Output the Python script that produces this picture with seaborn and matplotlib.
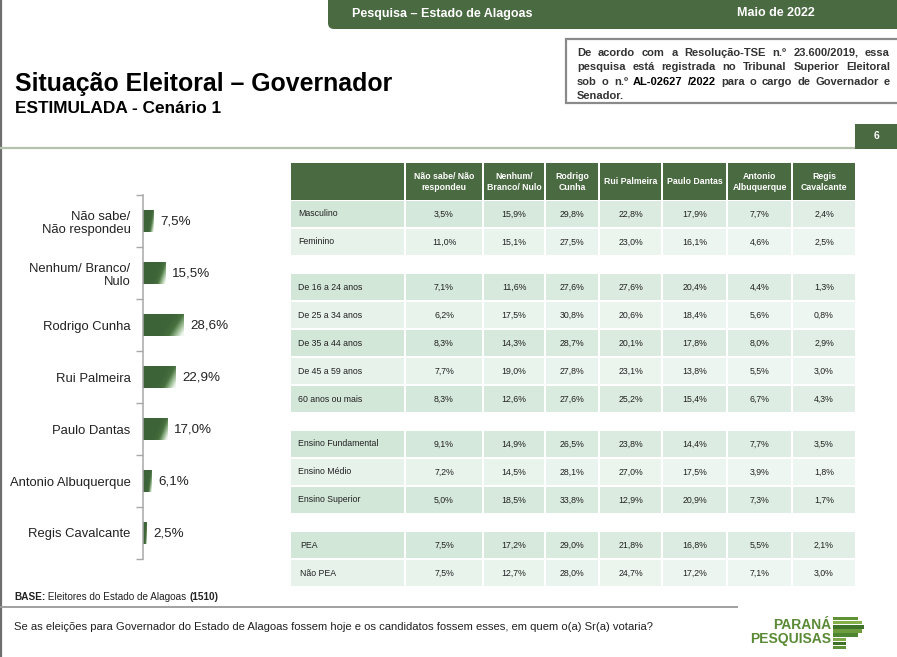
import numpy as np
import pandas as pd
import matplotlib
matplotlib.use("Agg")
import matplotlib.pyplot as plt
import seaborn as sns
from matplotlib.patches import Rectangle, FancyBboxPatch
from matplotlib.colors import LinearSegmentedColormap, to_rgb

# ---------------- DATA ----------------
bar_labels = ["Não sabe/\nNão respondeu", "Nenhum/ Branco/\nNulo", "Rodrigo Cunha",
              "Rui Palmeira", "Paulo Dantas", "Antonio Albuquerque", "Regis Cavalcante"]
bar_values = [7.5, 15.5, 28.6, 22.9, 17.0, 6.1, 2.5]

table_columns = ["Não sabe/ Não\nrespondeu", "Nenhum/\nBranco/ Nulo", "Rodrigo\nCunha",
                 "Rui Palmeira", "Paulo Dantas", "Antonio\nAlbuquerque", "Regis\nCavalcante"]

grp_sexo = ["Masculino", "Feminino"]
grp_idade = ["De 16 a 24 anos", "De 25 a 34 anos", "De 35 a 44 anos",
             "De 45 a 59 anos", "60 anos ou mais"]
grp_escolaridade = ["Ensino Fundamental", "Ensino Médio", "Ensino Superior"]
grp_pea = ["PEA", "Não PEA"]

masculino = [3.5, 15.9, 29.8, 22.8, 17.9, 7.7, 2.4]
feminino = [11.0, 15.1, 27.5, 23.0, 16.1, 4.6, 2.5]
idade_16_24 = [7.1, 11.6, 27.6, 27.6, 20.4, 4.4, 1.3]
idade_25_34 = [6.2, 17.5, 30.8, 20.6, 18.4, 5.6, 0.8]
idade_35_44 = [8.3, 14.3, 28.7, 20.1, 17.8, 8.0, 2.9]
idade_45_59 = [7.7, 19.0, 27.8, 23.1, 13.8, 5.5, 3.0]
idade_60_mais = [8.3, 12.6, 27.6, 25.2, 15.4, 6.7, 4.3]
ensino_fundamental = [9.1, 14.9, 26.5, 23.8, 14.4, 7.7, 3.5]
ensino_medio = [7.2, 14.5, 28.1, 27.0, 17.5, 3.9, 1.8]
ensino_superior = [5.0, 18.5, 33.8, 12.9, 20.9, 7.3, 1.7]
pea = [7.5, 17.2, 29.0, 21.8, 16.8, 5.5, 2.1]
nao_pea = [7.5, 12.7, 28.0, 24.7, 17.2, 7.1, 3.0]

table_groups = [
    (grp_sexo, [masculino, feminino]),
    (grp_idade, [idade_16_24, idade_25_34, idade_35_44, idade_45_59, idade_60_mais]),
    (grp_escolaridade, [ensino_fundamental, ensino_medio, ensino_superior]),
    (grp_pea, [pea, nao_pea]),
]

# ---------------- STYLE ----------------
sns.set_theme(style="white")
plt.rcParams['font.family'] = ['Liberation Sans', 'DejaVu Sans']

GREEN = "#4a6a41"
W, H = 897, 657
fig = plt.figure(figsize=(W / 100, H / 100), dpi=100)
fig.patch.set_facecolor("white")

bg = fig.add_axes([0, 0, 1, 1], zorder=0)
bg.set_xlim(0, W)
bg.set_ylim(H, 0)
bg.axis("off")
renderer = fig.canvas.get_renderer()


def text_width(s, **kw):
    t = bg.text(0, 0, s, **kw)
    w = t.get_window_extent(renderer).width
    t.remove()
    return w


def pct(v):
    return f"{v:.1f}%".replace(".", ",")


def mix(c, t):
    r, g, b = to_rgb(c)
    return (r + (1 - r) * t, g + (1 - g) * t, b + (1 - b) * t)


# left border
bg.plot([1, 1], [0, H], color="#6e6e6e", lw=1.6, solid_capstyle="butt")

# header bar
bg.add_patch(FancyBboxPatch((328, -20), 600, 49, boxstyle="round,pad=0,rounding_size=6",
                            fc=GREEN, ec="none"))
bg.text(352, 13.5, "Pesquisa – Estado de Alagoas", color="white", fontsize=9,
        fontweight="bold", va="center", ha="left")
bg.text(737, 13.5, "Maio de 2022", color="white", fontsize=9,
        fontweight="bold", va="center", ha="left")

# info box
bg.add_patch(Rectangle((566, 38.5), 340, 64.5, fc="white", ec="#8a8a8a", lw=1.6))
box_lines = [
    [("De", "#333"), ("acordo", "#333"), ("com", "#333"), ("a", "#333"),
     ("Resolução-TSE", "#333"), ("n.º", "#333"), ("23.600/2019,", "#333"), ("essa", "#333")],
    [("pesquisa", "#333"), ("está", "#333"), ("registrada", "#333"), ("no", "#333"),
     ("Tribunal", "#333"), ("Superior", "#333"), ("Eleitoral", "#333")],
    [("sob", "#333"), ("o", "#333"), ("n.º", "#333"), ("AL-02627", "#000"), ("/2022", "#000"),
     ("para", "#333"), ("o", "#333"), ("cargo", "#333"), ("de", "#333"),
     ("Governador", "#333"), ("e", "#333")],
    [("Senador.", "#333")],
]
box_fs = 8.0
bx0, bx1 = 577, 890
for i, words in enumerate(box_lines):
    yb = 55.5 + i * 14.6
    widths = [text_width(w, fontsize=box_fs, fontweight="bold") for w, _ in words]
    if len(words) > 1 and i < len(box_lines) - 1:
        gap = (bx1 - bx0 - sum(widths)) / (len(words) - 1)
    else:
        gap = text_width(" ", fontsize=box_fs, fontweight="bold")
    x = bx0
    for (w, c), ww in zip(words, widths):
        bg.text(x, yb, w, fontsize=box_fs, fontweight="bold", color=c, ha="left", va="baseline")
        x += ww + gap

# title
bg.text(15, 91.5, "Situação Eleitoral – Governador", fontsize=17.9, fontweight="bold",
        color="black", ha="left", va="baseline")
bg.text(15, 113, "ESTIMULADA - Cenário 1", fontsize=12.4, fontweight="bold",
        color="black", ha="left", va="baseline")

# separator line + page number
bg.plot([0, 855], [147.5, 147.5], color="#b7c2ae", lw=1.6, solid_capstyle="butt")
bg.add_patch(Rectangle((855, 123.5), 45, 25, fc=GREEN, ec="none"))
bg.text(877, 136, "6", color="white", fontsize=7.5, fontweight="bold", ha="center", va="center")

# ---------------- TABLE ----------------
col_edges = [290, 405, 483, 545, 599, 662, 727, 792, 856]
hdr_top, hdr_bot = 163, 200
for c in range(len(col_edges) - 1):
    x0, x1 = col_edges[c], col_edges[c + 1]
    bg.add_patch(Rectangle((x0 + 0.8, hdr_top), x1 - x0 - 1.6, hdr_bot - hdr_top,
                           fc=GREEN, ec="none"))
    if c > 0:
        bg.text((x0 + x1) / 2, (hdr_top + hdr_bot) / 2 + 0.5, table_columns[c - 1],
                color="white", fontsize=6.3, fontweight="bold", ha="center", va="center",
                linespacing=1.35)

pitch, group_extra = 28, 17
yc = 214
for gi, (names, rows) in enumerate(table_groups):
    for ri, (name, vals) in enumerate(zip(names, rows)):
        dark = (ri % 2 == 0)
        base = "#d1e6d8" if dark else "#e6f2ea"
        for c in range(len(col_edges) - 1):
            x0, x1 = col_edges[c], col_edges[c + 1]
            t = 0.35 * ((x0 + x1) / 2 - col_edges[0]) / (col_edges[-1] - col_edges[0])
            bg.add_patch(Rectangle((x0 + 0.8, yc - 13.2), x1 - x0 - 1.6, 26.4,
                                   fc=mix(base, t), ec="none"))
            if c == 0:
                xo = 300 if gi == 3 else 298
                bg.text(xo, yc, name, fontsize=6.3, color="#222", ha="left", va="center")
            else:
                bg.text((x0 + x1) / 2, yc, pct(vals[c - 1]), fontsize=6.3, color="#222",
                        ha="center", va="center")
        yc += pitch
    yc += group_extra

# ---------------- BAR CHART ----------------
ax_left, ax_top, ax_bot, ax_w = 143, 195, 559, 160
ax = fig.add_axes([ax_left / W, (H - ax_bot) / H, ax_w / W, (ax_bot - ax_top) / H], zorder=2)
ax.patch.set_alpha(0)
df = pd.DataFrame({"cand": bar_labels, "val": bar_values})
sns.barplot(data=df, x="val", y="cand", orient="h", color="#41683b", saturation=1,
            width=0.41, ax=ax)
xmax = ax_w / 1.42
ax.set_xlim(0, xmax)
ax.set_ylim(len(bar_labels) - 0.5, -0.5)

cmap = LinearSegmentedColormap.from_list("g", ["#3d6338", "#48723f", "#9dbd95", "#f2f7f0"])
xf = np.linspace(0, 1, 120)[None, :]
yf = np.linspace(0, 1, 40)[:, None]
grad = np.clip((xf + 0.35 * yf - 0.74) / 0.55, 0, 1) ** 1.3
for p in list(ax.patches):
    x0, y0, w, h = p.get_x(), p.get_y(), p.get_width(), p.get_height()
    im = ax.imshow(grad, extent=(x0, x0 + w, y0 + h, y0), cmap=cmap, vmin=0, vmax=1,
                   aspect="auto", origin="upper", zorder=p.get_zorder() + 0.1,
                   interpolation="bilinear")
    im.set_clip_path(p)
ax.set_xlim(0, xmax)
ax.set_ylim(len(bar_labels) - 0.5, -0.5)

ax.bar_label(ax.containers[0], labels=[pct(v) for v in bar_values], padding=5,
             fontsize=9.6, color="#222")
for s in ["top", "right", "bottom"]:
    ax.spines[s].set_visible(False)
ax.spines["left"].set_color("#a8a8a8")
ax.spines["left"].set_linewidth(1.1)
ax.set_xticks([])
ax.set_xlabel("")
ax.set_ylabel("")
ax.set_yticks(np.arange(-0.5, len(bar_labels), 1), minor=True)
ax.tick_params(axis="y", which="major", length=0, pad=9, labelsize=9.4, labelcolor="#222")
ax.tick_params(axis="y", which="minor", length=5, width=1, color="#a8a8a8", left=True)
for lab in ax.get_yticklabels():
    lab.set_linespacing(1.2)

# ---------------- FOOTER ----------------
bg.plot([0, 738], [607, 607], color="#9a9a9a", lw=1.3, solid_capstyle="butt")
base_parts = [("BASE:", "bold"), (" Eleitores do Estado de Alagoas ", "normal"), ("(1510)", "bold")]
x = 14
for s, fw in base_parts:
    bg.text(x, 600.5, s, fontsize=7.2, fontweight=fw, color="#222", ha="left", va="baseline")
    x += text_width(s, fontsize=7.2, fontweight=fw)
bg.text(14, 630.5, "Se as eleições para Governador do Estado de Alagoas fossem hoje e os candidatos "
        "fossem esses, em quem o(a) Sr(a) votaria?", fontsize=8.1, color="#222",
        ha="left", va="baseline")

# logo
bg.text(831, 642.5, "PARANÁ\nPESQUISAS", fontsize=10, fontweight="bold", color="#5a8a35",
        ha="right", va="baseline", multialignment="right", linespacing=0.95)
stripe_w = [25, 29, 31, 29, 25, 13, 13, 13]
stripe_c = ["#5f9236", "#86b04a", "#3f7428", "#6d9d3c", "#4d8530", "#7fa948", "#3e7027", "#5f9236"]
for i, (sw, sc) in enumerate(zip(stripe_w, stripe_c)):
    bg.add_patch(Rectangle((833, 617 + i * 4.1), sw, 3.3, fc=sc, ec="none"))

fig.savefig("out.png", dpi=100, facecolor="white")
